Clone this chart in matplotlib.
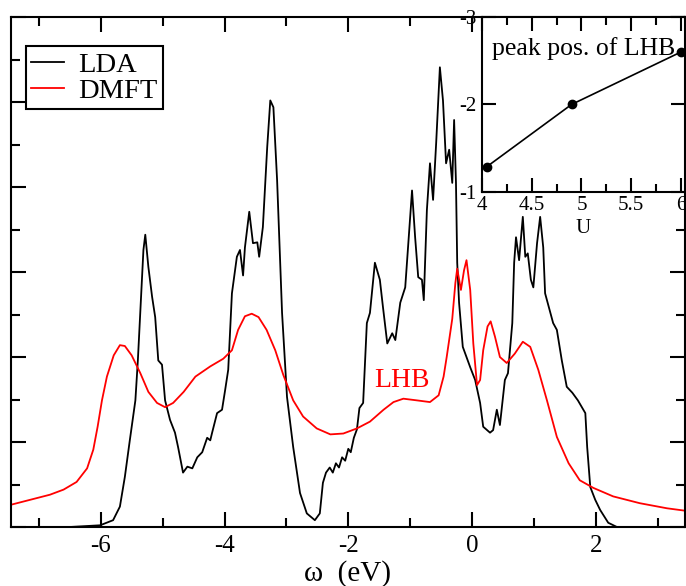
import numpy as np
from matplotlib import pyplot as plt
from matplotlib.ticker import MultipleLocator

plt.rcParams['font.family'] = ['Liberation Serif', 'DejaVu Serif']
plt.rcParams['axes.unicode_minus'] = False

# LDA density of states
lda_w = [-7.45, -6.5, -6.01, -5.80, -5.69, -5.61, -5.53, -5.44, -5.40, -5.35, -5.31, -5.28,
         -5.23, -5.17, -5.12, -5.07, -5.01, -4.96, -4.88, -4.80, -4.75, -4.67, -4.60, -4.52,
         -4.44, -4.36, -4.28, -4.23, -4.20, -4.12, -4.04, -3.99, -3.94, -3.88, -3.80, -3.75,
         -3.70, -3.67, -3.60, -3.54, -3.47, -3.44, -3.38, -3.31, -3.26, -3.21, -3.15, -3.07,
         -2.99, -2.89, -2.78, -2.67, -2.54, -2.46, -2.41, -2.36, -2.30, -2.25, -2.20, -2.15,
         -2.10, -2.05, -2.00, -1.96, -1.91, -1.86, -1.82, -1.76, -1.70, -1.65, -1.57, -1.49,
         -1.44, -1.37, -1.29, -1.24, -1.16, -1.08, -1.03, -0.97, -0.92, -0.87, -0.81, -0.78,
         -0.73, -0.68, -0.63, -0.58, -0.52, -0.47, -0.42, -0.37, -0.32, -0.29, -0.26, -0.24,
         -0.21, -0.15, -0.03, 0.05, 0.13, 0.18, 0.29, 0.34, 0.40, 0.45, 0.53, 0.58,
         0.65, 0.68, 0.71, 0.76, 0.82, 0.86, 0.90, 0.95, 0.99, 1.05, 1.10, 1.15,
         1.18, 1.24, 1.31, 1.37, 1.45, 1.53, 1.62, 1.71, 1.83, 1.86, 1.91, 1.99,
         2.07, 2.20, 2.34, 3.5]
lda_dos = [0.0, 0.0, 0.02, 0.08, 0.24, 0.59, 1.02, 1.49, 1.96, 2.67, 3.26, 3.44,
           3.06, 2.71, 2.47, 1.96, 1.91, 1.49, 1.26, 1.11, 0.94, 0.64, 0.71, 0.69,
           0.82, 0.88, 1.05, 1.02, 1.11, 1.34, 1.38, 1.61, 1.85, 2.75, 3.18, 3.26,
           2.96, 3.29, 3.71, 3.34, 3.35, 3.18, 3.53, 4.47, 5.02, 4.94, 4.08, 2.52,
           1.53, 0.94, 0.40, 0.16, 0.08, 0.16, 0.52, 0.64, 0.70, 0.64, 0.75, 0.70,
           0.82, 0.78, 0.92, 0.88, 1.05, 1.15, 1.40, 1.46, 2.40, 2.52, 3.11, 2.91,
           2.59, 2.16, 2.28, 2.20, 2.64, 2.82, 3.34, 3.96, 3.41, 2.94, 2.91, 2.67,
           3.73, 4.28, 3.85, 4.52, 5.41, 5.02, 4.28, 4.44, 4.05, 4.79, 4.05, 3.11,
           2.64, 2.12, 1.88, 1.73, 1.46, 1.18, 1.11, 1.14, 1.38, 1.20, 1.73, 1.81,
           2.40, 3.11, 3.41, 3.14, 3.65, 3.18, 3.22, 2.91, 2.82, 3.34, 3.65, 3.29,
           2.75, 2.59, 2.40, 2.32, 1.96, 1.65, 1.58, 1.49, 1.34, 0.94, 0.47, 0.32,
           0.20, 0.05, 0.0, 0.0]

# DMFT spectral function
dmft_w = [-7.46, -7.14, -6.82, -6.60, -6.39, -6.22, -6.12, -6.05, -5.98, -5.90, -5.79, -5.69,
          -5.61, -5.50, -5.36, -5.23, -5.09, -4.96, -4.83, -4.66, -4.47, -4.23, -4.02, -3.88,
          -3.78, -3.67, -3.56, -3.45, -3.32, -3.18, -3.05, -2.89, -2.73, -2.51, -2.29, -2.08,
          -1.86, -1.65, -1.43, -1.27, -1.11, -0.89, -0.68, -0.54, -0.46, -0.41, -0.32, -0.27,
          -0.24, -0.18, -0.13, -0.09, -0.03, 0.02, 0.08, 0.13, 0.18, 0.25, 0.30, 0.37,
          0.45, 0.56, 0.69, 0.82, 0.94, 1.07, 1.21, 1.37, 1.56, 1.74, 1.96, 2.28,
          2.71, 3.15, 3.46]
dmft_dos = [0.26, 0.32, 0.38, 0.44, 0.53, 0.69, 0.91, 1.18, 1.49, 1.77, 2.02, 2.14,
            2.13, 2.02, 1.81, 1.59, 1.46, 1.41, 1.46, 1.59, 1.77, 1.89, 1.98, 2.08,
            2.32, 2.48, 2.51, 2.47, 2.32, 2.08, 1.79, 1.49, 1.30, 1.16, 1.09, 1.10,
            1.16, 1.24, 1.38, 1.47, 1.51, 1.49, 1.47, 1.55, 1.77, 2.00, 2.45, 2.87,
            3.04, 2.79, 3.02, 3.14, 2.79, 2.16, 1.67, 1.73, 2.08, 2.36, 2.42, 2.24,
            2.00, 1.93, 2.04, 2.18, 2.12, 1.85, 1.49, 1.06, 0.75, 0.55, 0.46, 0.36,
            0.28, 0.22, 0.19]

# inset: LHB peak position vs U
u_vals = [4.05, 4.9, 6.0]
lhb_peak = [-1.29, -2.0, -2.6]

fig = plt.figure(figsize=(6.86, 5.86), dpi=100)
ax = fig.add_axes([0.016, 0.1007, 0.9825, 0.870])
ax.plot(lda_w, lda_dos, color='black', lw=1.3, label='LDA')
ax.plot(dmft_w, dmft_dos, color='red', lw=1.3, label='DMFT', solid_joinstyle='round')
ax.set_xlim(-7.45, 3.44)
ax.set_ylim(0, 6)
ax.xaxis.set_major_locator(MultipleLocator(2))
ax.xaxis.set_minor_locator(MultipleLocator(1))
ax.yaxis.set_major_locator(MultipleLocator(1))
ax.yaxis.set_minor_locator(MultipleLocator(0.5))
ax.tick_params(which='both', direction='in', top=True, right=True, width=1.5, labelsize=18, pad=6)
ax.tick_params(which='major', length=11)
ax.tick_params(which='minor', length=6.5)
ax.set_yticklabels([])
for s in ax.spines.values():
    s.set_linewidth(1.5)
ax.set_xlabel('ω  (eV)', fontsize=21, labelpad=2)
ax.text(-1.13, 1.72, 'LHB', color='red', fontsize=20, ha='center', va='center')
leg = ax.legend(loc='upper left', bbox_to_anchor=(0.022, 0.943), borderaxespad=0,
                fontsize=20.5, handlelength=1.15, labelspacing=0.0, fancybox=False,
                framealpha=1, edgecolor='black', borderpad=0.2, handletextpad=0.5)
leg.get_frame().set_linewidth(1.5)

# inset
ins = fig.add_axes([0.7026, 0.6724, 0.2959, 0.2986])
ins.plot(u_vals, lhb_peak, color='black', lw=1.2, marker='o', ms=6, clip_on=False)
ins.set_xlim(4, 6.04)
ins.set_ylim(-1, -3)
ins.xaxis.set_minor_locator(MultipleLocator(0.25))
ins.set_xticks([4, 4.5, 5, 5.5, 6])
ins.set_xticklabels(['4', '4.5', '5', '5.5', '6'])
ins.set_yticks([-1, -2, -3])
ins.set_yticklabels(['-1', '-2', '-3'])
ins.tick_params(which='both', direction='in', top=True, right=True, width=1.5, labelsize=15)
ins.tick_params(axis='x', pad=3)
ins.tick_params(axis='y', pad=4)
ins.tick_params(which='major', length=10)
ins.tick_params(which='minor', length=5.5)
for s in ins.spines.values():
    s.set_linewidth(1.5)
ins.set_xlabel('U', fontsize=15, labelpad=3)
ins.text(0.05, 0.82, 'peak pos. of LHB', transform=ins.transAxes, fontsize=18.5, va='center')

fig.savefig('out.png', dpi=100)
